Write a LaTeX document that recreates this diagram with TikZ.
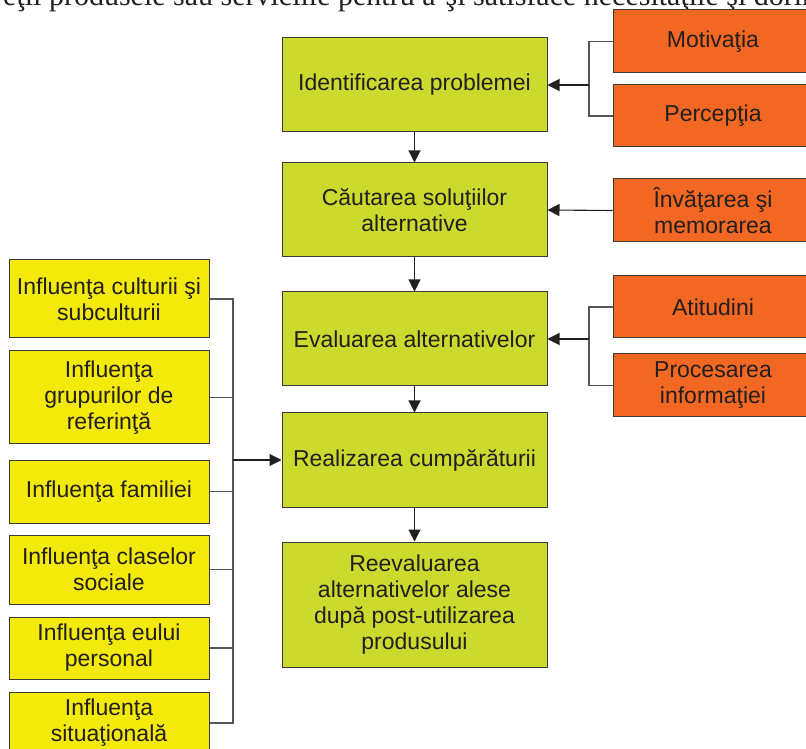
\documentclass[tikz,border=0pt]{standalone}
\usepackage{fontspec}
\setmainfont{Liberation Sans}
\newfontfamily\serifft{Liberation Serif}
\usetikzlibrary{arrows.meta,calc}
\definecolor{gbox}{HTML}{CCDA2D}
\definecolor{obox}{HTML}{F26722}
\definecolor{ybox}{HTML}{F3EA0B}
\definecolor{ink}{HTML}{231F20}
\definecolor{edge}{HTML}{3A3A3A}
\definecolor{wire}{HTML}{555555}
\tikzset{
  basebox/.style={draw=edge, line width=1pt, inner sep=0pt, align=center, text=ink,
    font=\fontsize{23}{26}\selectfont},
  greenbox/.style={basebox, fill=gbox, minimum width=265pt},
  orangebox/.style={basebox, fill=obox, minimum width=200pt},
  yellowbox/.style={basebox, fill=ybox, minimum width=200pt},
  wireline/.style={draw=wire, line width=1.3pt},
  arrowline/.style={draw=ink, line width=1.1pt, -{Triangle[length=12pt,width=12pt]}},
}
\begin{document}
\begin{tikzpicture}[x=1pt,y=1pt]
\useasboundingbox (0,0) rectangle (806,748);
\clip (0,0) rectangle (806,748);
% top page text (cut off)
\node[anchor=base west, inner sep=0pt, text=ink, font=\serifft\fontsize{30}{33}\selectfont] (toptext) at (3,742)
  {eţii produsele sau serviciile pentru a-şi satisface necesităţile şi dorinţele};
% green process boxes
\node[greenbox, minimum height=94pt] (g1) at (414.5,663) {Identificarea problemei};
\node[greenbox, minimum height=94pt] (g2) at (414.5,538) {Căutarea soluţiilor\\alternative};
\node[greenbox, minimum height=94pt] (g3) at (414.5,409) {Evaluarea alternativelor};
\node[greenbox, minimum height=94pt] (g4) at (414.5,288) {Realizarea cumpărăturii};
\node[greenbox, minimum height=125pt] (g5) at (414.5,143.5) {Reevaluarea\\alternativelor alese\\după post-utilizarea\\produsului};
% orange factor boxes
\node[orangebox, minimum height=63pt] (o1) at (713,706.5) {Motivaţia};
\node[orangebox, minimum height=62pt] (o2) at (713,632) {Percepţia};
\node[orangebox, minimum height=63pt] (o3) at (713,537.5) {Învăţarea şi\\memorarea};
\node[orangebox, minimum height=62pt] (o4) at (713,441) {Atitudini};
\node[orangebox, minimum height=63pt] (o5) at (713,362.5) {Procesarea\\informaţiei};
% yellow influence boxes
\node[yellowbox, minimum height=78pt] (y1) at (109,449) {Influenţa culturii şi\\subculturii};
\node[yellowbox, minimum height=93pt] (y2) at (109,350.5) {Influenţa\\grupurilor de\\referinţă};
\node[yellowbox, minimum height=63pt] (y3) at (109,256.5) {Influenţa familiei};
\node[yellowbox, minimum height=69pt] (y4) at (109,178.5) {Influenţa claselor\\sociale};
\node[yellowbox, minimum height=62pt] (y5) at (109,100) {Influenţa eului\\personal};
\node[yellowbox, minimum height=62pt] (y6) at (109,25) {Influenţa\\situaţională};
% bracket coordinates
\coordinate (lb) at (233,0);
\coordinate (rb) at (589,0);
% main flow
\draw[arrowline] (g1.south) -- (g2.north);
\draw[arrowline] (g2.south) -- (g3.north);
\draw[arrowline] (g3.south) -- (g4.north);
\draw[arrowline] (g4.south) -- (g5.north);
% right side factors
\draw[wireline] (o1.west) -- (o1.west -| rb) -- (o2.west -| rb) -- (o2.west);
\draw[arrowline] (g1.east -| rb) -- (g1.east);
\draw[arrowline] (o3.west) -- (g2.east);
\draw[wireline] (o4.west) -- (o4.west -| rb) -- (o5.west -| rb) -- (o5.west);
\draw[arrowline] (g3.east -| rb) -- (g3.east);
% left side influences
\draw[wireline] (y1.east) -- (y1.east -| lb) -- (y6.east -| lb) -- (y6.east);
\foreach \n in {y2,y3,y4,y5} \draw[wireline] (\n.east) -- (\n.east -| lb);
\draw[arrowline] (g4.west -| lb) -- (g4.west);
\end{tikzpicture}
\end{document}
